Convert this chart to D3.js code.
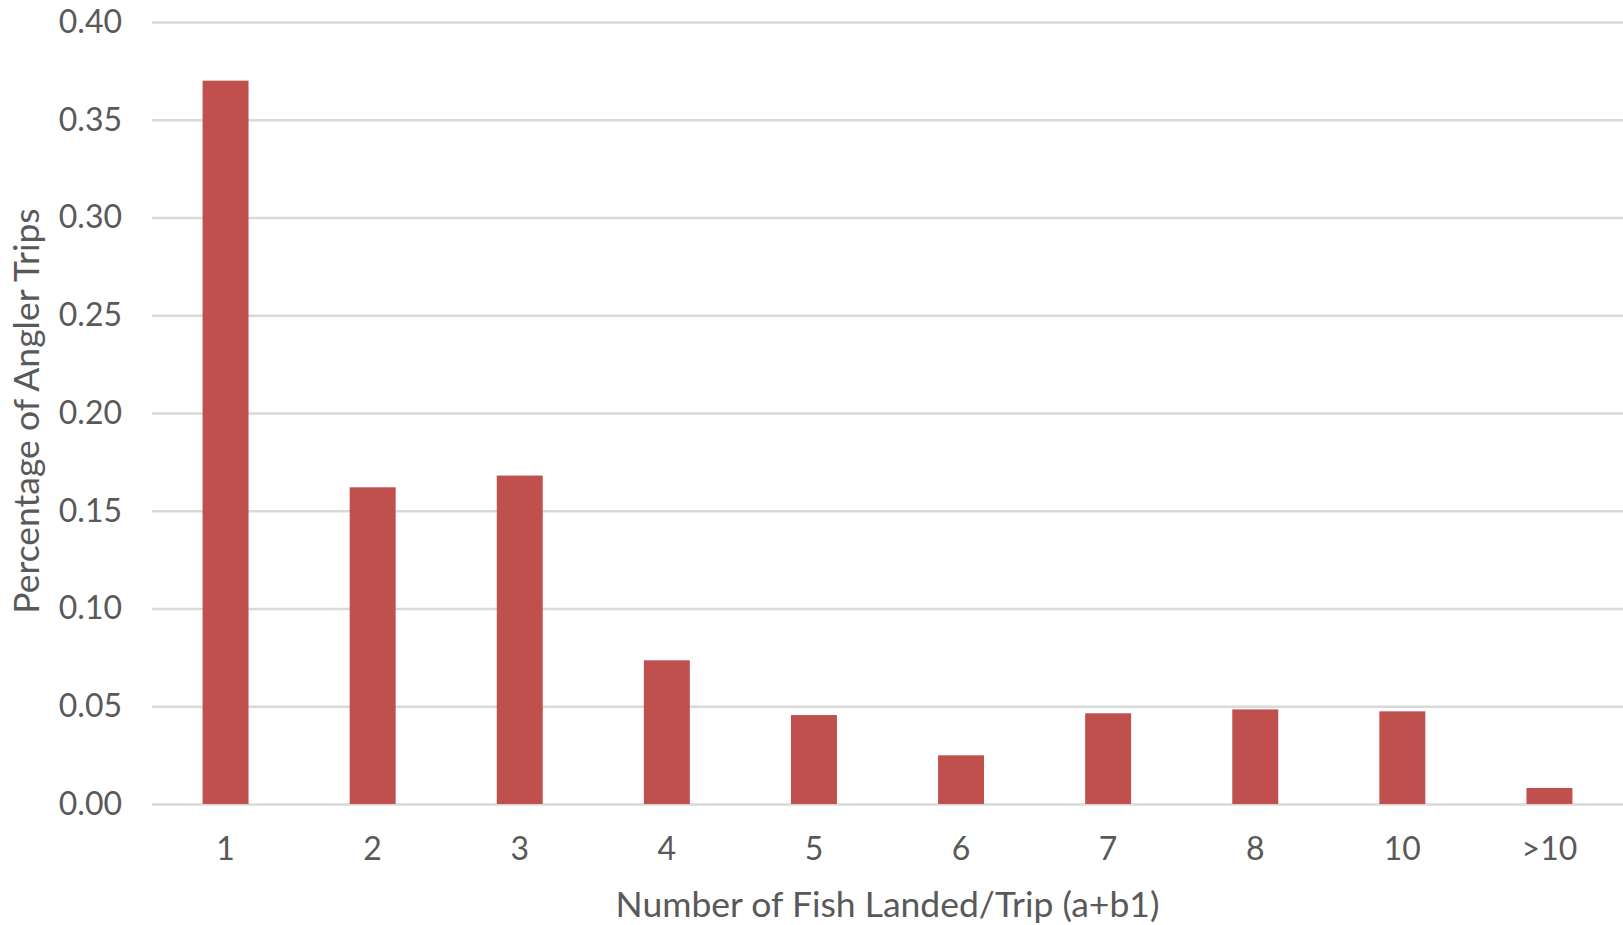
<!DOCTYPE html>
<html>
<head>
<meta charset="utf-8">
<script src="https://cdn.jsdelivr.net/npm/d3@7"></script>
<style>
    html, body { margin: 0; padding: 0; background: #fff; }
    svg { display: block; }
    .axis text { fill: #595959; font-family: Lato, "Open Sans", sans-serif; }
    .axis-label { fill: #595959; font-family: Lato, "Open Sans", sans-serif; }
</style>
</head>
<body>
<svg id="chart" width="1623" height="925"></svg>
<script>
    // data
    var categories = ['1', '2', '3', '4', '5', '6', '7', '8', '10', '>10'];
    var tripShare = [0.370, 0.162, 0.168, 0.0735, 0.0455, 0.0249, 0.0464, 0.0484, 0.0474, 0.0082];
    var yTicks = [0, 0.05, 0.10, 0.15, 0.20, 0.25, 0.30, 0.35, 0.40];
    var xTitle = 'Number of Fish Landed/Trip (a+b1)';
    var yTitle = 'Percentage of Angler Trips';

    var margin = {top: 22, right: 0, bottom: 121, left: 152};
    var svg = d3.select('#chart');
    var width = +svg.attr('width') - margin.left - margin.right;
    var height = +svg.attr('height') - margin.top - margin.bottom;

    var g = svg.append('g')
        .attr('transform', 'translate(' + margin.left + ',' + margin.top + ')');

    var x = d3.scaleBand()
        .domain(categories)
        .range([0, width])
        .paddingInner(0.6875)
        .paddingOuter(0.34375);

    var y = d3.scaleLinear()
        .domain([0, 0.40])
        .range([height, 0]);

    // gridlines + y labels
    var yAxis = g.append('g')
        .attr('class', 'axis y-axis')
        .call(d3.axisLeft(y)
            .tickValues(yTicks)
            .tickFormat(d3.format('.2f'))
            .tickSize(-width)
            .tickPadding(30));
    yAxis.select('.domain').remove();
    yAxis.selectAll('line').attr('stroke', '#d9d9d9').attr('stroke-width', 2.4);
    yAxis.selectAll('text').style('font-size', '32px');

    // x labels
    var xAxis = g.append('g')
        .attr('class', 'axis x-axis')
        .attr('transform', 'translate(0,' + height + ')')
        .call(d3.axisBottom(x).tickSize(0).tickPadding(33));
    xAxis.select('.domain').remove();
    xAxis.selectAll('text').style('font-size', '32px');

    g.selectAll('.bar')
        .data(tripShare)
        .enter().append('rect')
        .attr('class', 'bar')
        .attr('x', function(d, i) { return x(categories[i]); })
        .attr('y', function(d) { return y(d); })
        .attr('width', x.bandwidth())
        .attr('height', function(d) { return height - y(d); })
        .attr('fill', '#c0504d');

    g.append('text')
        .attr('class', 'axis-label')
        .attr('x', width / 2)
        .attr('y', height + 113)
        .attr('text-anchor', 'middle')
        .style('font-size', '35.5px')
        .text(xTitle);

    g.append('text')
        .attr('class', 'axis-label')
        .attr('transform', 'translate(' + (-113) + ',' + (height / 2 - 2) + ') rotate(-90)')
        .attr('text-anchor', 'middle')
        .style('font-size', '35.5px')
        .text(yTitle);
</script>
</body>
</html>
